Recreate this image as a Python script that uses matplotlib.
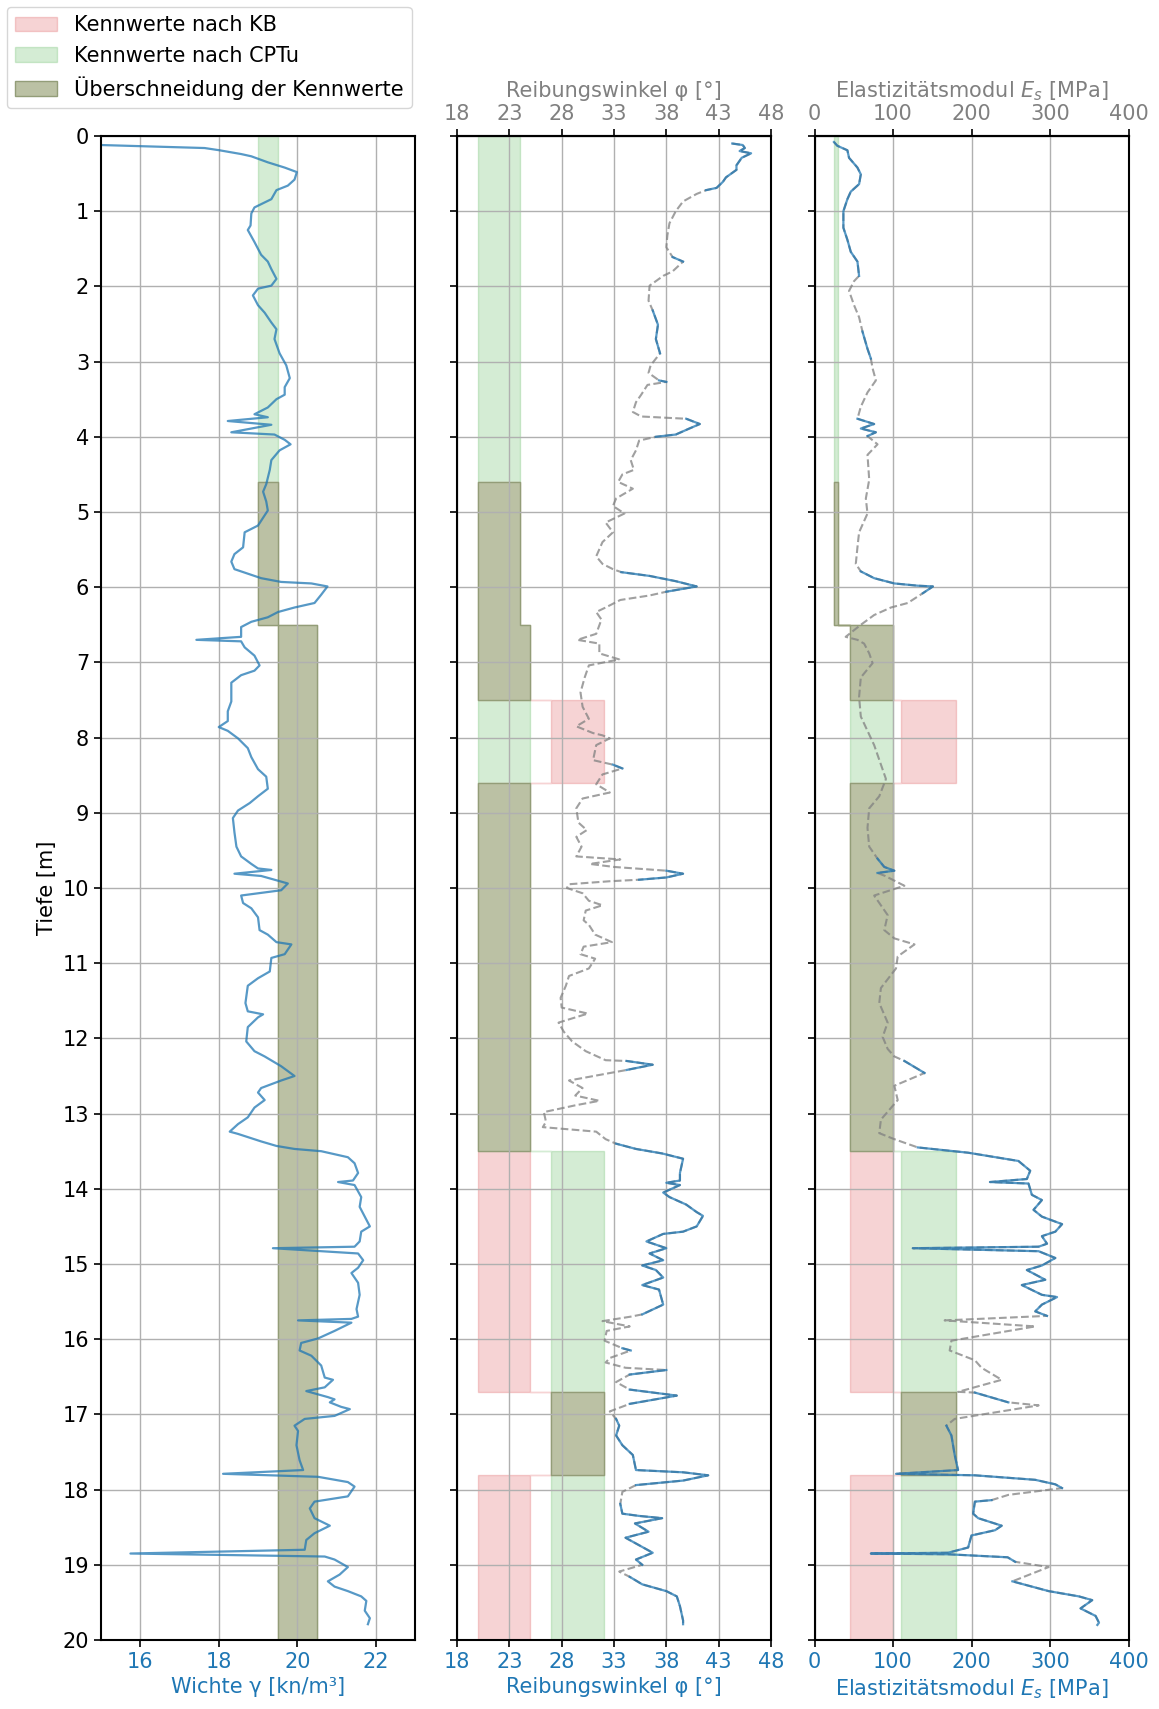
import matplotlib
matplotlib.use("Agg")
import matplotlib.pyplot as plt
from matplotlib.patches import Patch
import numpy as np

# Schichtgrenzen der Kennwert-Bereiche [m]
layer_top = [0.0, 4.6, 6.5, 7.5, 8.6, 13.5, 16.7, 17.8]
layer_bot = [4.6, 6.5, 7.5, 8.6, 13.5, 16.7, 17.8, 20.0]

# Kennwerte nach CPTu (min / max je Schicht)
gamma_cptu_lo = [19.0, 19.0, 19.5, 19.5, 19.5, 19.5, 19.5, 19.5]
gamma_cptu_hi = [19.5, 19.5, 20.5, 20.5, 20.5, 20.5, 20.5, 20.5]
phi_cptu_lo = [20, 20, 20, 20, 20, 27, 27, 27]
phi_cptu_hi = [24, 24, 25, 25, 25, 32, 32, 32]
es_cptu_lo = [25, 25, 45, 45, 45, 110, 110, 110]
es_cptu_hi = [30, 30, 100, 100, 100, 180, 180, 180]

# Kennwerte nach KB (erste Schicht ohne Angabe)
gamma_kb_lo = [None, 19.0, 19.5, 19.5, 19.5, 19.5, 19.5, 19.5]
gamma_kb_hi = [None, 19.5, 20.5, 20.5, 20.5, 20.5, 20.5, 20.5]
phi_kb_lo = [None, 20, 20, 27, 20, 20, 27, 20]
phi_kb_hi = [None, 24, 25, 32, 25, 25, 32, 25]
es_kb_lo = [None, 25, 45, 110, 45, 45, 110, 45]
es_kb_hi = [None, 30, 100, 180, 100, 100, 180, 100]

# Wichte aus CPTu
gamma_depth = [0.12, 0.16, 0.19, 0.24, 0.27, 0.35, 0.42, 0.48, 0.58, 0.66,
               0.72, 0.84, 0.95, 1.03, 1.19, 1.25, 1.41, 1.58, 1.67, 1.77,
               1.90, 1.99, 2.03, 2.12, 2.25, 2.35, 2.48, 2.57, 2.70, 2.89,
               3.05, 3.22, 3.34, 3.44, 3.50, 3.61, 3.70, 3.74, 3.79, 3.84,
               3.94, 3.97, 4.04, 4.10, 4.18, 4.31, 4.44, 4.63, 4.73, 4.86,
               4.98, 5.18, 5.27, 5.47, 5.56, 5.66, 5.76, 5.82, 5.88, 5.93,
               5.95, 5.99, 6.10, 6.21, 6.27, 6.33, 6.40, 6.46, 6.53, 6.66,
               6.70, 6.72, 6.80, 6.91, 7.04, 7.11, 7.17, 7.27, 7.52, 7.65,
               7.78, 7.86, 7.91, 8.01, 8.14, 8.26, 8.42, 8.52, 8.68, 8.78,
               8.87, 8.97, 9.07, 9.26, 9.45, 9.58, 9.68, 9.74, 9.76, 9.81,
               9.84, 9.94, 10.03, 10.10, 10.20, 10.27, 10.39, 10.56, 10.62, 10.72,
               10.75, 10.88, 10.93, 11.11, 11.20, 11.30, 11.53, 11.64, 11.68, 11.72,
               11.85, 12.04, 12.17, 12.24, 12.37, 12.50, 12.56, 12.66, 12.72, 12.82,
               12.92, 13.05, 13.14, 13.24, 13.27, 13.37, 13.43, 13.47, 13.50, 13.58,
               13.66, 13.79, 13.89, 13.91, 13.95, 14.11, 14.24, 14.37, 14.50, 14.57,
               14.70, 14.77, 14.79, 14.86, 14.95, 15.05, 15.12, 15.25, 15.41, 15.60,
               15.70, 15.73, 15.75, 15.78, 15.89, 15.99, 16.05, 16.15, 16.22, 16.35,
               16.51, 16.54, 16.64, 16.69, 16.77, 16.80, 16.84, 16.90, 16.93, 17.02,
               17.06, 17.15, 17.22, 17.41, 17.61, 17.74, 17.79, 17.83, 17.90, 17.96,
               18.09, 18.16, 18.25, 18.38, 18.48, 18.58, 18.67, 18.80, 18.85, 18.89,
               18.93, 19.03, 19.13, 19.22, 19.29, 19.35, 19.42, 19.48, 19.61, 19.71,
               19.79]
gamma = [15.0, 17.64, 18.02, 18.57, 18.83, 19.25, 19.68, 19.99, 19.93, 19.76,
         19.47, 19.34, 18.91, 18.83, 18.81, 18.74, 18.91, 19.08, 19.25, 19.34,
         19.47, 19.34, 19.0, 18.87, 19.0, 19.17, 19.34, 19.47, 19.42, 19.55,
         19.72, 19.81, 19.68, 19.68, 19.47, 19.25, 18.91, 19.25, 18.23, 19.34,
         18.32, 19.42, 19.68, 19.83, 19.55, 19.34, 19.30, 19.21, 19.13, 19.21,
         19.25, 19.0, 18.66, 18.62, 18.40, 18.32, 18.40, 18.74, 19.08, 19.59,
         20.36, 20.77, 20.61, 20.44, 19.93, 19.51, 19.25, 18.83, 18.57, 18.57,
         17.43, 18.57, 18.66, 18.91, 19.04, 18.91, 18.57, 18.32, 18.32, 18.23,
         18.23, 18.0, 18.23, 18.49, 18.74, 18.83, 19.0, 19.21, 19.25, 19.0,
         18.79, 18.49, 18.36, 18.40, 18.45, 18.57, 18.83, 19.0, 19.34, 18.40,
         19.08, 19.76, 19.59, 18.57, 18.62, 18.83, 19.0, 19.04, 19.25, 19.47,
         19.85, 19.68, 19.34, 19.30, 19.0, 18.74, 18.68, 18.74, 19.13, 19.0,
         18.74, 18.70, 18.91, 19.17, 19.59, 19.93, 19.59, 19.08, 19.0, 19.17,
         18.91, 18.74, 18.49, 18.28, 18.49, 19.08, 19.47, 19.93, 20.61, 21.29,
         21.46, 21.55, 21.42, 21.04, 21.46, 21.63, 21.59, 21.72, 21.85, 21.63,
         21.59, 21.46, 19.38, 21.55, 21.68, 21.55, 21.38, 21.55, 21.59, 21.51,
         21.55, 21.38, 20.02, 21.38, 20.95, 20.53, 20.10, 20.06, 20.36, 20.61,
         20.70, 20.91, 20.70, 20.23, 20.78, 20.95, 20.83, 21.12, 21.34, 20.95,
         20.19, 19.93, 20.02, 19.98, 20.06, 20.15, 18.11, 20.53, 21.29, 21.46,
         21.29, 20.44, 20.32, 20.44, 20.83, 20.44, 20.23, 20.19, 15.75, 20.70,
         20.95, 21.29, 21.08, 20.78, 20.95, 21.29, 21.63, 21.76, 21.72, 21.85,
         21.80]

# Reibungswinkel aus CPTu
phi_depth = [0.10, 0.12, 0.16, 0.20, 0.23, 0.29, 0.39, 0.45, 0.55, 0.61,
             0.69, 0.72, 0.77, 0.87, 1.00, 1.16, 1.32, 1.48, 1.61, 1.67,
             1.80, 1.86, 1.99, 2.19, 2.32, 2.51, 2.70, 2.89, 3.05, 3.15,
             3.25, 3.27, 3.31, 3.44, 3.54, 3.67, 3.73, 3.76, 3.83, 3.89,
             3.97, 4.00, 4.05, 4.18, 4.31, 4.44, 4.50, 4.60, 4.69, 4.82,
             4.92, 5.02, 5.14, 5.27, 5.40, 5.59, 5.69, 5.76, 5.80, 5.85,
             5.92, 5.99, 6.06, 6.11, 6.17, 6.27, 6.33, 6.43, 6.62, 6.70,
             6.75, 6.88, 6.96, 7.04, 7.20, 7.40, 7.59, 7.75, 7.85, 7.94,
             7.97, 8.01, 8.10, 8.30, 8.36, 8.41, 8.49, 8.62, 8.73, 8.81,
             8.94, 9.13, 9.23, 9.32, 9.45, 9.58, 9.62, 9.68, 9.72, 9.77,
             9.81, 9.86, 9.89, 9.91, 9.95, 10.00, 10.07, 10.17, 10.23, 10.30,
             10.43, 10.49, 10.62, 10.72, 10.78, 10.88, 10.94, 11.07, 11.17, 11.30,
             11.46, 11.59, 11.67, 11.79, 11.91, 12.04, 12.17, 12.29, 12.30, 12.35,
             12.42, 12.56, 12.66, 12.76, 12.83, 12.89, 12.98, 13.11, 13.18, 13.24,
             13.34, 13.40, 13.47, 13.53, 13.60, 13.79, 13.89, 13.92, 13.95, 14.05,
             14.11, 14.21, 14.31, 14.36, 14.50, 14.57, 14.60, 14.70, 14.79, 14.86,
             14.95, 15.02, 15.08, 15.18, 15.28, 15.34, 15.54, 15.67, 15.70, 15.76,
             15.83, 15.89, 16.02, 16.12, 16.15, 16.25, 16.31, 16.38, 16.41, 16.47,
             16.57, 16.67, 16.75, 16.86, 16.96, 17.06, 17.15, 17.28, 17.41, 17.54,
             17.74, 17.77, 17.81, 17.88, 17.94, 18.03, 18.19, 18.32, 18.35, 18.38,
             18.45, 18.56, 18.64, 18.84, 18.93, 19.00, 19.09, 19.16, 19.26, 19.35,
             19.42, 19.55, 19.74, 19.79]
phi = [44.3, 45.3, 45.5, 45.0, 46.1, 45.2, 44.7, 44.7, 43.7, 43.4,
       42.8, 41.8, 40.9, 39.6, 38.9, 38.3, 38.1, 38.0, 38.6, 39.6,
       38.6, 37.7, 36.4, 36.3, 36.7, 37.2, 37.0, 37.4, 36.5, 36.3,
       37.3, 38.0, 36.2, 35.6, 35.1, 34.8, 35.6, 39.9, 41.2, 40.2,
       38.9, 37.0, 35.4, 35.1, 34.6, 34.9, 33.8, 33.4, 34.8, 33.2,
       32.9, 34.0, 32.2, 32.9, 31.9, 31.3, 31.9, 32.9, 33.7, 36.4,
       38.9, 40.9, 38.0, 36.4, 33.6, 32.2, 31.3, 31.8, 31.3, 29.5,
       31.6, 31.6, 33.5, 30.6, 30.2, 29.8, 30.0, 30.6, 29.4, 31.0,
       31.9, 32.6, 31.3, 31.0, 32.9, 33.8, 31.9, 31.3, 32.6, 30.0,
       29.4, 29.6, 30.4, 29.4, 29.9, 29.4, 33.6, 30.7, 33.0, 38.0,
       39.6, 38.0, 35.4, 32.6, 28.7, 28.5, 30.0, 30.6, 31.9, 30.3,
       30.1, 30.6, 31.2, 32.8, 30.1, 29.8, 31.2, 30.6, 28.7, 28.4,
       27.9, 28.0, 30.5, 27.7, 28.2, 29.0, 30.3, 32.2, 34.2, 36.7,
       34.2, 28.7, 30.0, 29.3, 31.6, 29.3, 26.3, 26.5, 26.2, 31.3,
       32.2, 33.2, 35.1, 37.6, 39.6, 39.3, 39.3, 38.0, 39.3, 37.7,
       38.3, 39.9, 40.9, 41.5, 40.9, 39.6, 37.7, 36.1, 38.0, 36.4,
       37.7, 35.7, 37.0, 37.7, 35.7, 37.3, 37.7, 35.7, 34.6, 31.9,
       34.5, 32.3, 32.1, 33.8, 34.6, 32.6, 32.2, 34.1, 38.0, 34.5,
       33.2, 34.5, 39.0, 34.5, 32.6, 33.2, 33.5, 33.2, 33.8, 34.8,
       35.1, 39.6, 42.0, 39.6, 35.1, 33.8, 33.6, 33.8, 35.4, 37.6,
       35.0, 36.3, 34.1, 36.7, 35.1, 35.7, 33.5, 34.5, 35.7, 38.0,
       39.0, 39.3, 39.6, 39.6]
phi_sand = [(0.10, 0.72), (1.61, 1.67), (2.32, 2.89), (3.25, 3.27), (3.76, 4.00),
            (5.80, 6.06), (8.36, 8.41), (9.77, 9.89), (12.30, 12.42), (13.40, 15.67),
            (16.12, 16.15), (16.41, 16.47), (16.67, 16.86), (17.06, 17.94),
            (18.19, 19.00), (19.16, 19.79)]

# Elastizitaetsmodul aus CPTu
es_depth = [0.08, 0.13, 0.19, 0.29, 0.42, 0.51, 0.64, 0.74, 0.84, 1.00,
            1.22, 1.38, 1.54, 1.67, 1.86, 1.93, 2.06, 2.25, 2.41, 2.60,
            2.83, 2.96, 3.09, 3.25, 3.41, 3.60, 3.76, 3.83, 3.89, 3.94,
            3.99, 4.10, 4.24, 4.57, 4.82, 5.02, 5.27, 5.47, 5.69, 5.79,
            5.88, 5.95, 5.98, 5.99, 6.08, 6.21, 6.27, 6.37, 6.50, 6.66,
            6.70, 6.75, 6.88, 7.01, 7.20, 7.46, 7.72, 7.91, 8.10, 8.36,
            8.55, 8.78, 8.94, 9.20, 9.45, 9.61, 9.72, 9.77, 9.80, 9.84,
            9.97, 10.10, 10.36, 10.56, 10.67, 10.75, 10.91, 11.07, 11.33, 11.53,
            11.79, 11.98, 12.14, 12.24, 12.30, 12.46, 12.63, 12.82, 13.08, 13.26,
            13.34, 13.45, 13.52, 13.63, 13.76, 13.87, 13.91, 13.93, 14.08, 14.15,
            14.28, 14.37, 14.47, 14.57, 14.63, 14.73, 14.77, 14.79, 14.83, 14.92,
            15.02, 15.08, 15.21, 15.28, 15.41, 15.44, 15.54, 15.63, 15.69, 15.75,
            15.83, 16.02, 16.15, 16.28, 16.38, 16.54, 16.70, 16.71, 16.84, 16.88,
            17.06, 17.15, 17.28, 17.54, 17.74, 17.79, 17.81, 17.87, 17.93, 17.98,
            18.07, 18.14, 18.16, 18.32, 18.38, 18.48, 18.54, 18.61, 18.77, 18.84,
            18.85, 18.86, 18.90, 18.96, 19.03, 19.22, 19.35, 19.42, 19.47, 19.58,
            19.68, 19.77, 19.80]
es = [24.8, 29.1, 41.9, 44.0, 54.7, 59.0, 56.8, 46.2, 41.9, 36.8,
      36.8, 41.9, 46.2, 54.7, 56.8, 50.4, 44.0, 50.4, 56.8, 61.1,
      67.5, 71.8, 74.0, 78.2, 67.5, 59.0, 54.7, 76.0, 59.0, 78.2,
      67.5, 80.3, 67.5, 69.7, 65.4, 67.5, 56.8, 54.7, 52.6, 59.0,
      76.0, 101.7, 131.6, 150.9, 138.0, 118.8, 97.4, 76.0, 59.0, 39.7,
      54.7, 63.2, 69.7, 74.0, 59.0, 56.8, 59.0, 67.5, 76.0, 84.6,
      91.0, 82.5, 69.7, 67.5, 69.7, 80.3, 88.9, 101.7, 80.3, 90.0,
      114.5, 76.0, 93.2, 88.9, 101.7, 127.4, 106.0, 103.8, 84.6, 82.5,
      93.2, 86.8, 93.2, 101.7, 114.5, 140.2, 101.7, 106.0, 84.6, 82.5,
      101.7, 131.6, 195.7, 259.8, 274.8, 270.5, 223.5, 272.6, 276.9, 289.7,
      279.0, 289.7, 315.4, 306.8, 289.7, 296.2, 285.5, 125.2, 285.5, 306.8,
      289.7, 270.5, 294.0, 264.1, 289.7, 309.0, 289.7, 281.2, 296.2, 165.8,
      281.2, 174.4, 172.2, 204.3, 212.8, 238.5, 182.9, 204.3, 247.0, 285.5,
      178.6, 168.0, 174.4, 178.6, 182.9, 103.8, 204.3, 281.2, 306.8, 315.4,
      247.0, 225.6, 204.3, 202.1, 208.5, 238.5, 230.0, 200.0, 195.7, 170.0,
      71.8, 170.0, 246.0, 255.6, 298.3, 252.1, 298.3, 336.8, 353.8, 338.9,
      358.1, 362.4, 360.3]
es_sand = [(0.08, 1.86), (2.60, 2.96), (3.76, 3.99), (5.79, 6.08), (9.61, 9.80),
           (12.30, 12.46), (13.45, 15.69), (16.71, 16.84), (17.15, 17.98),
           (18.14, 18.86), (18.90, 18.96), (19.22, 19.80)]

assert len(gamma_depth) == len(gamma)
assert len(phi_depth) == len(phi)
assert len(es_depth) == len(es)

BLUE = "#1f77b4"
OVERLAP_FACE = "#bbc1a4"
OVERLAP_EDGE = "#939d78"
FS = 15


def stepped(lo, hi):
    """Schichtweise Werte in Treppenform bringen (nur Schichten mit Angabe)."""
    y, x1, x2 = [], [], []
    for t, b, l, h in zip(layer_top, layer_bot, lo, hi):
        if l is None:
            continue
        y += [t, b]
        x1 += [l, l]
        x2 += [h, h]
    return np.array(y), np.array(x1, float), np.array(x2, float)


def overlap(kb_lo, kb_hi, cp_lo, cp_hi):
    y, x1, x2, ok = [], [], [], []
    for t, b, kl, kh, cl, ch in zip(layer_top, layer_bot, kb_lo, kb_hi, cp_lo, cp_hi):
        if kl is None:
            valid, l, h = False, cl, ch
        else:
            l, h = max(kl, cl), min(kh, ch)
            valid = l < h
        y += [t, b]
        x1 += [l, l]
        x2 += [h, h]
        ok += [valid, valid]
    return np.array(y), np.array(x1, float), np.array(x2, float), np.array(ok)


def sand_only(depth, vals, intervals):
    depth = np.asarray(depth)
    mask = np.zeros(len(depth), bool)
    for a, b in intervals:
        mask |= (depth >= a - 1e-9) & (depth <= b + 1e-9)
    return np.where(mask, np.asarray(vals, float), np.nan)


def draw_ranges(ax, kb_lo, kb_hi, cp_lo, cp_hi):
    y, a, b = stepped(kb_lo, kb_hi)
    ax.fill_betweenx(y, a, b, color="C3", alpha=0.2, lw=1)
    y, a, b = stepped(cp_lo, cp_hi)
    ax.fill_betweenx(y, a, b, color="C2", alpha=0.2, lw=1)
    y, a, b, ok = overlap(kb_lo, kb_hi, cp_lo, cp_hi)
    ax.fill_betweenx(y, a, b, where=ok, facecolor=OVERLAP_FACE,
                     edgecolor=OVERLAP_EDGE, lw=1)


fig = plt.figure(figsize=(11.59, 17.09), dpi=100)
bottom = 1 - 1640 / 1709
height = 1504 / 1709
width = 314 / 1159
ax1 = fig.add_axes([101 / 1159, bottom, width, height])
ax2 = fig.add_axes([457 / 1159, bottom, width, height])
ax3 = fig.add_axes([814.5 / 1159, bottom, width, height])

for ax in (ax1, ax2, ax3):
    ax.set_ylim(20, 0)
    ax.set_yticks(range(0, 21))
    ax.grid(True, color="#b0b0b0", lw=1)
    ax.tick_params(labelsize=FS, length=5, width=1.2)
    for sp in ax.spines.values():
        sp.set_linewidth(1.5)

# Wichte
draw_ranges(ax1, gamma_kb_lo, gamma_kb_hi, gamma_cptu_lo, gamma_cptu_hi)
ax1.plot(gamma, gamma_depth, color=BLUE, alpha=0.75, lw=1.6)
ax1.set_xlim(15, 23)
ax1.set_xticks([16, 18, 20, 22])
ax1.set_ylabel("Tiefe [m]", fontsize=FS)
ax1.set_xlabel("Wichte γ [kn/m³]", fontsize=FS, color=BLUE)
ax1.tick_params(axis="x", labelcolor=BLUE)

# Reibungswinkel
draw_ranges(ax2, phi_kb_lo, phi_kb_hi, phi_cptu_lo, phi_cptu_hi)
ax2.plot(phi, phi_depth, color="grey", alpha=0.75, lw=1.5, ls="--")
ax2.plot(sand_only(phi_depth, phi, phi_sand), phi_depth, color=BLUE, alpha=0.75, lw=1.6)
ax2.set_xlim(18, 48)
phi_ticks = [18, 23, 28, 33, 38, 43, 48]
ax2.set_xticks(phi_ticks)
ax2.set_xlabel("Reibungswinkel φ [°]", fontsize=FS, color=BLUE)
ax2.tick_params(axis="x", labelcolor=BLUE)
ax2.tick_params(axis="y", labelleft=False)

# Elastizitaetsmodul
draw_ranges(ax3, es_kb_lo, es_kb_hi, es_cptu_lo, es_cptu_hi)
ax3.plot(es, es_depth, color="grey", alpha=0.75, lw=1.5, ls="--")
ax3.plot(sand_only(es_depth, es, es_sand), es_depth, color=BLUE, alpha=0.75, lw=1.6)
ax3.set_xlim(0, 400)
es_ticks = [0, 100, 200, 300, 400]
ax3.set_xticks(es_ticks)
ax3.set_xlabel("Elastizitätsmodul $E_s$ [MPa]", fontsize=FS, color=BLUE)
ax3.tick_params(axis="x", labelcolor=BLUE)
ax3.tick_params(axis="y", labelleft=False)

# obere Achsen in grau
for ax, ticks, label in ((ax2, phi_ticks, "Reibungswinkel φ [°]"),
                         (ax3, es_ticks, "Elastizitätsmodul $E_s$ [MPa]")):
    sec = ax.secondary_xaxis("top")
    sec.set_xticks(ticks)
    sec.tick_params(labelsize=FS, labelcolor="grey", length=5, width=1.2)
    sec.set_xlabel(label, fontsize=FS, color="grey", labelpad=5)
    sec.spines["top"].set_linewidth(1.5)

handles = [
    Patch(facecolor="C3", edgecolor="C3", alpha=0.2, label="Kennwerte nach KB"),
    Patch(facecolor="C2", edgecolor="C2", alpha=0.2, label="Kennwerte nach CPTu"),
    Patch(facecolor=OVERLAP_FACE, edgecolor=OVERLAP_EDGE, label="Überschneidung der Kennwerte"),
]
fig.legend(handles=handles, loc="upper left", bbox_to_anchor=(7 / 1159, 1 - 7 / 1709),
           borderaxespad=0, fontsize=FS, framealpha=0.8)

fig.savefig("out.png", dpi=100)
